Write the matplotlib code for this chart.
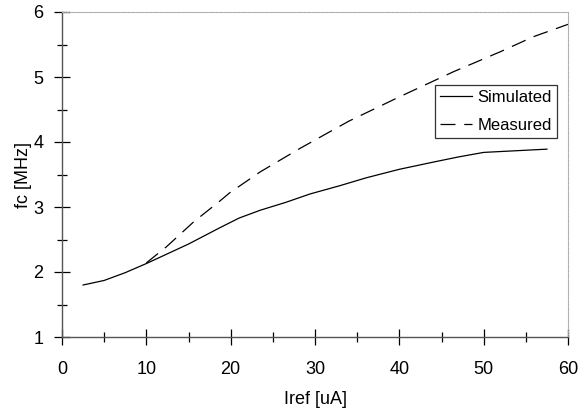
import matplotlib
matplotlib.use("Agg")
import matplotlib.pyplot as plt
from matplotlib.ticker import MultipleLocator

plt.rcParams['font.family'] = ['Liberation Sans', 'DejaVu Sans']

sim_x = [2.5, 5, 7.5, 10, 12.5, 15, 18.7, 21, 23.5, 26.5, 29.4, 33, 36.1, 40, 44, 47, 50, 53, 57.5]
sim_y = [1.80, 1.87, 1.99, 2.13, 2.28, 2.43, 2.68, 2.83, 2.95, 3.07, 3.20, 3.33, 3.45, 3.58, 3.69, 3.77, 3.84, 3.86, 3.89]

meas_x = [10, 12.4, 15.6, 18.7, 19.9, 23.5, 28.2, 34, 40.1, 46.4, 52, 55.9, 60]
meas_y = [2.14, 2.39, 2.77, 3.09, 3.22, 3.54, 3.90, 4.32, 4.70, 5.08, 5.39, 5.62, 5.81]

fig = plt.figure(figsize=(5.88, 4.16), dpi=100)
ax = fig.add_axes([62/588, 79/416, 506/588, 325/416])

ax.plot(sim_x, sim_y, color='black', lw=0.9, label='Simulated')
ax.plot(meas_x, meas_y, color='black', lw=0.9, dashes=(12, 7), label='Measured')

ax.set_xlim(0, 60)
ax.set_ylim(1, 6)
ax.xaxis.set_major_locator(MultipleLocator(10))
ax.xaxis.set_minor_locator(MultipleLocator(5))
ax.yaxis.set_major_locator(MultipleLocator(1))
ax.yaxis.set_minor_locator(MultipleLocator(0.5))
ax.tick_params(which='major', direction='inout', length=11, width=0.9, labelsize=13, color='black')
ax.tick_params(which='minor', direction='inout', length=7, width=0.9, color='black')
ax.tick_params(axis='x', which='major', pad=12)
ax.tick_params(axis='y', which='major', pad=8)

for s in ['left', 'bottom']:
    ax.spines[s].set_color('#555555')
    ax.spines[s].set_linewidth(1.0)
for s in ['top', 'right']:
    ax.spines[s].set_color('#aaaaaa')
    ax.spines[s].set_linewidth(0.8)
    ax.spines[s].set_linestyle((0, (1, 1.2)))

ax.set_xlabel('Iref [uA]', fontsize=13)
ax.set_ylabel('fc [MHz]', fontsize=13)
ax.xaxis.set_label_coords(0.5, -(399 - 337) / 325)
ax.yaxis.set_label_coords(-(62 - 23) / 506, 0.5)
ax.xaxis.label.set_va('center')
ax.yaxis.label.set_va('center')

leg = ax.legend(loc='upper right', fontsize=12, frameon=True, fancybox=False, edgecolor='black',
                handlelength=1.9, borderpad=0.3, labelspacing=0.75, handletextpad=0.35, borderaxespad=0)
leg.get_frame().set_linewidth(0.9)
leg.set_bbox_to_anchor((557/588, (416-85)/416), transform=fig.transFigure)

fig.savefig('out.png', dpi=100)
